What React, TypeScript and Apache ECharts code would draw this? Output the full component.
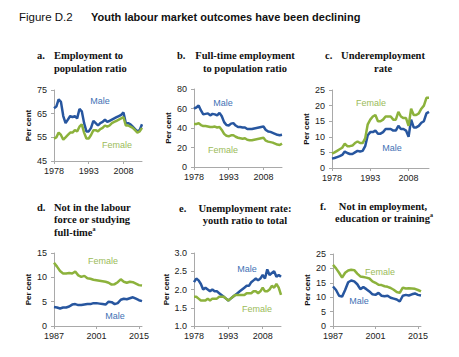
import React, { useEffect, useRef } from 'react';
import * as echarts from 'echarts';

const years7816 = ['1978','1979','1980','1981','1982','1983','1984','1985','1986','1987','1988','1989','1990','1991','1992','1993','1994','1995','1996','1997','1998','1999','2000','2001','2002','2003','2004','2005','2006','2007','2008','2009','2010','2011','2012','2013','2014','2015','2016'];
const years8716 = ['1987','1988','1989','1990','1991','1992','1993','1994','1995','1996','1997','1998','1999','2000','2001','2002','2003','2004','2005','2006','2007','2008','2009','2010','2011','2012','2013','2014','2015','2016'];
const ticks78 = ['1978', '1993', '2008'];
const ticks87 = ['1987', '2001', '2015'];

const empMale = [67.3,68,71,70,64,61,62.5,64,63.5,64,63,67,66,61,57.5,57.5,59,62,61,60,61,61.5,62.5,61.5,62,62.5,63,63.5,64,64.5,65.5,61,61,60.5,59.5,58.5,57.5,58,60.5];
const empFemale = [54.5,55,57,56,54,55,56,57,57,58,57.5,59.5,60.5,57,54.5,54.5,56,58,58,57.5,58.5,59,60,59.5,60,61,61.5,62,62.5,63,63.5,60,60,59.5,59,58,57,57.5,59];

const ftMale = [60,61,63,58,54,54.5,55,53,54.5,54,53,55.5,52,46,43,42.5,44.5,45,42.5,41,41,40.5,40.5,39,39,39,39.5,40,40.5,41,41.5,38,36.5,36,35,34,33,32.5,33];
const ftFemale = [44,44,45,43,42,42,41.5,41,41,41.5,40.5,41,38,34,32,31.5,32.5,32.5,31,30,29.5,29,29.5,28,27.5,27.5,28,28.5,29,29.5,30,27,26,25.5,25,24,23,22.5,24];

const underFemale = [4.6,5,5.5,6,6.5,7.8,7,7,7.2,8,8.5,8,8,9.5,14,15.5,16.5,17,15,15,15.5,16.5,16.5,16.5,15.5,15.5,18,16.5,16,16,13.5,19,17,17,17.5,19,20,22.5,22.5];
const underMale = [3,3.2,3.5,3.8,4.2,5.3,4.8,4.5,4.5,5,5.5,5.3,5.5,7,10.5,11.5,11.5,12,11,11,11.5,12.5,12.5,12.5,12,12,13.5,12.5,12.5,12,10,15.5,13,13,13.5,14.5,15,17.5,18];

const nilfFemale = [13,12.2,11.3,10.8,10.8,10.9,10.8,11.2,10.4,10.1,10.3,9.8,9.7,9.5,9.4,9.3,9.2,9.1,8.9,8.5,8.6,9.0,9.6,9.1,8.9,9.1,9.0,8.7,8.4,8.3];
const nilfMale = [3.9,3.8,3.6,3.8,3.8,4.0,4.4,4.5,4.3,4.3,4.4,4.5,4.5,4.7,4.7,4.6,4.5,4.4,5.0,4.9,4.5,4.7,5.4,5.6,5.5,5.7,5.9,5.6,5.3,5.1];

const ratioMale = [2.2,2.3,2.25,2.15,2.0,2.05,2.0,1.95,2.0,1.95,1.95,1.9,1.85,1.8,1.75,1.7,1.75,1.8,1.85,1.9,1.95,2.0,2.05,2.1,2.1,2.2,2.25,2.3,2.25,2.3,2.4,2.3,2.55,2.4,2.45,2.5,2.35,2.4,2.35];
const ratioFemale = [1.8,1.8,1.75,1.7,1.7,1.7,1.75,1.7,1.75,1.75,1.75,1.8,1.8,1.8,1.75,1.7,1.75,1.8,1.85,1.85,1.85,1.85,1.85,1.9,1.9,1.9,1.95,1.95,1.9,1.95,2.05,1.95,1.95,2.0,2.1,2.05,2.15,2.05,1.85];

const neetFemale = [21.2,20,18.5,16.8,18.5,19.3,19.5,19.4,18.2,17.2,17,16.8,16.5,15.5,15,14.3,14.2,13.8,13.6,13.2,12.6,11.8,11.5,13.3,13,13.1,13,12.9,12.5,12];
const neetMale = [13.7,12.5,10.5,10.2,12.5,15.2,15.8,15.5,14.5,12.8,13.5,12.8,12,11,10.8,11.5,10.5,10.3,10.5,9.8,9.5,9.2,8.5,10.5,10.8,10.6,11,11.3,10.8,10.6];

const MALE_LINE = '#27569f';
const FEMALE_LINE = '#8cb23c';
const MALE_TEXT = '#4371b5';
const FEMALE_TEXT = '#9bbb59';
const SANS = 'Liberation Sans, Arial, sans-serif';
const SERIF = 'Liberation Serif, Times New Roman, serif';

const panels = [
  { grid: { left: 54, top: 90, width: 88, height: 71 }, cats: years7816, ticks: ticks78, male: empMale, female: empFemale, min: 45, max: 75, interval: 10, dec: 0 },
  { grid: { left: 194, top: 89, width: 88, height: 78 }, cats: years7816, ticks: ticks78, male: ftMale, female: ftFemale, min: 0, max: 80, interval: 20, dec: 0 },
  { grid: { left: 332, top: 90, width: 97, height: 78 }, cats: years7816, ticks: ticks78, male: underMale, female: underFemale, min: 0, max: 25, interval: 5, dec: 0 },
  { grid: { left: 54, top: 253, width: 88, height: 73 }, cats: years8716, ticks: ticks87, male: nilfMale, female: nilfFemale, min: 0, max: 15, interval: 5, dec: 0 },
  { grid: { left: 194, top: 253, width: 87, height: 73 }, cats: years7816, ticks: ticks78, male: ratioMale, female: ratioFemale, min: 1, max: 3, interval: 0.5, dec: 1 },
  { grid: { left: 333, top: 254, width: 88, height: 72 }, cats: years8716, ticks: ticks87, male: neetMale, female: neetFemale, min: 0, max: 25, interval: 5, dec: 0 },
];

function txt(text: string, x: number, y: number, opts: any = {}) {
  const align = opts.align || 'left';
  const style: any = {
    text,
    fill: opts.fill || '#111',
    fontSize: opts.size || 10.5,
    fontWeight: opts.weight || 'normal',
    fontFamily: opts.family || SERIF,
    align,
    textAlign: align,
    verticalAlign: 'middle',
    textVerticalAlign: 'middle',
  };
  if (opts.rich) style.rich = opts.rich;
  return { type: 'text', x, y, silent: true, style };
}

const supRich = {
  t: { fontSize: 10.5, fontWeight: 'bold', fontFamily: SERIF, fill: '#111', lineHeight: 13 },
  s: { fontSize: 6, fontWeight: 'bold', fontFamily: SERIF, fill: '#111', verticalAlign: 'top', lineHeight: 13 },
};

export default function App() {
  const ref = useRef<HTMLDivElement>(null);
  useEffect(() => {
    if (!ref.current) return;
    const chart = echarts.init(ref.current, undefined, { renderer: 'svg' });
    const axisColor = '#a9a9a9';
    const grid: any[] = [];
    const xAxis: any[] = [];
    const yAxis: any[] = [];
    const series: any[] = [];
    panels.forEach((p, i) => {
      grid.push({ ...p.grid, containLabel: false });
      const showFn = (_idx: number, val: string) => p.ticks.indexOf(val) >= 0;
      xAxis.push({
        type: 'category',
        gridIndex: i,
        data: p.cats,
        boundaryGap: false,
        axisLine: { show: true, lineStyle: { color: axisColor, width: 1 } },
        axisTick: { show: true, length: 3, interval: showFn, lineStyle: { color: axisColor } },
        axisLabel: { interval: showFn, fontSize: 9, color: '#222', margin: 5, fontFamily: SANS },
        splitLine: { show: false },
      });
      yAxis.push({
        type: 'value',
        gridIndex: i,
        min: p.min,
        max: p.max,
        interval: p.interval,
        axisLine: { show: true, lineStyle: { color: axisColor, width: 1 } },
        axisTick: { show: true, length: 3, lineStyle: { color: axisColor } },
        axisLabel: {
          fontSize: 9,
          color: '#222',
          margin: 7,
          fontFamily: SANS,
          formatter: (v: number) => v.toFixed(p.dec),
        },
        splitLine: { show: false },
        name: 'Per cent',
        nameLocation: 'middle',
        nameGap: 22,
        nameTextStyle: { fontSize: 8, fontWeight: 'bold', color: '#111', fontFamily: SANS },
      });
      series.push({
        type: 'line',
        name: 'Male',
        xAxisIndex: i,
        yAxisIndex: i,
        data: p.male,
        showSymbol: false,
        lineStyle: { color: MALE_LINE, width: 2.5 },
        itemStyle: { color: MALE_LINE },
      });
      series.push({
        type: 'line',
        name: 'Female',
        xAxisIndex: i,
        yAxisIndex: i,
        data: p.female,
        showSymbol: false,
        lineStyle: { color: FEMALE_LINE, width: 2.5 },
        itemStyle: { color: FEMALE_LINE },
      });
    });

    const b = 'bold';
    const graphic: any[] = [
      txt('Figure D.2', 19, 17, { family: SANS, size: 11.5 }),
      txt('Youth labour market outcomes have been declining', 91, 17, { family: SANS, size: 11, weight: b }),
      // a
      txt('a.', 37, 55, { weight: b }),
      txt('Employment to', 54, 55, { weight: b }),
      txt('population ratio', 54, 68, { weight: b }),
      // b
      txt('b.', 177, 55, { weight: b }),
      txt('Full-time employment', 245, 55, { weight: b, align: 'center' }),
      txt('to population ratio', 245, 68, { weight: b, align: 'center' }),
      // c
      txt('c.', 325, 55, { weight: b }),
      txt('Underemployment', 383, 55, { weight: b, align: 'center' }),
      txt('rate', 383, 68, { weight: b, align: 'center' }),
      // d
      txt('d.', 37, 207, { weight: b }),
      txt('Not in the labour', 54, 207, { weight: b }),
      txt('force or studying', 54, 219.5, { weight: b }),
      txt('{t|full-time}{s|a}', 54, 232, { weight: b, rich: supRich }),
      // e
      txt('e.', 179, 208, { weight: b }),
      txt('Unemployment rate:', 245, 208, { weight: b, align: 'center' }),
      txt('youth ratio to total', 245, 220, { weight: b, align: 'center' }),
      // f
      txt('f.', 320, 206, { weight: b }),
      txt('Not in employment,', 383, 206, { weight: b, align: 'center' }),
      txt('{t|education or training}{s|a}', 384, 218.5, { weight: b, align: 'center', rich: supRich }),
      // series labels
      txt('Male', 100, 101, { family: SANS, size: 9, fill: MALE_TEXT, align: 'center' }),
      txt('Female', 117, 145, { family: SANS, size: 9, fill: FEMALE_TEXT, align: 'center' }),
      txt('Male', 223, 103, { family: SANS, size: 9, fill: MALE_TEXT, align: 'center' }),
      txt('Female', 223, 150, { family: SANS, size: 9, fill: FEMALE_TEXT, align: 'center' }),
      txt('Female', 371, 103, { family: SANS, size: 9, fill: FEMALE_TEXT, align: 'center' }),
      txt('Male', 392, 148, { family: SANS, size: 9, fill: MALE_TEXT, align: 'center' }),
      txt('Female', 103, 261, { family: SANS, size: 9, fill: FEMALE_TEXT, align: 'center' }),
      txt('Male', 115, 316, { family: SANS, size: 9, fill: MALE_TEXT, align: 'center' }),
      txt('Male', 247, 269, { family: SANS, size: 9, fill: MALE_TEXT, align: 'center' }),
      txt('Female', 257, 309, { family: SANS, size: 9, fill: FEMALE_TEXT, align: 'center' }),
      txt('Female', 380, 272, { family: SANS, size: 9, fill: FEMALE_TEXT, align: 'center' }),
      txt('Male', 359, 301, { family: SANS, size: 9, fill: MALE_TEXT, align: 'center' }),
    ];

    chart.setOption({
      animation: false,
      backgroundColor: '#ffffff',
      grid,
      xAxis,
      yAxis,
      series,
      graphic,
    });
    return () => chart.dispose();
  }, []);
  return <div ref={ref} style={{ position: 'fixed', left: 0, top: 0, width: 459, height: 357 }} />;
}
